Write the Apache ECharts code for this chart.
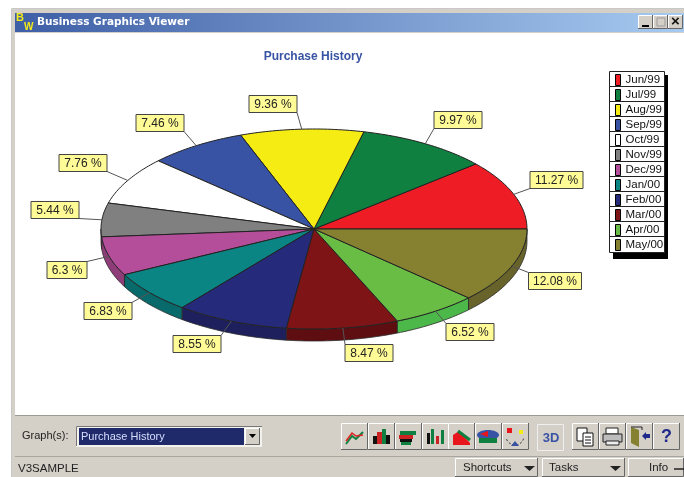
<!DOCTYPE html>
<html>
<head>
<meta charset="utf-8">
<style>
  html, body { margin: 0; padding: 0; background: #fff; }
  #main { width: 684px; height: 477px; filter: blur(0.35px); }
</style>
<script src="https://cdn.jsdelivr.net/npm/echarts@6/dist/echarts.min.js"></script>
</head>
<body>
<div id="main"></div>
<script>
const categories = ['Jun/99', 'Jul/99', 'Aug/99', 'Sep/99', 'Oct/99', 'Nov/99', 'Dec/99', 'Jan/00', 'Feb/00', 'Mar/00', 'Apr/00', 'May/00']
const shares = [11.27, 9.97, 9.36, 7.46, 7.76, 5.44, 6.3, 6.83, 8.55, 8.47, 6.52, 12.08]
const sliceColors = ['#EE1C25', '#0F8040', '#F5EC14', '#3953A4', '#FFFFFF', '#808080', '#B54E9A', '#0B8484', '#252A7A', '#7F1416', '#69BD45', '#868131']
const sideColors = ['#A51219', '#0A5A2C', '#AAA40E', '#283A72', '#D0D0D0', '#5A5A5A', '#8E3D79', '#086A6A', '#1D205C', '#5E0E10', '#4DB84A', '#67632A']
// centre of each value label box, in pixels
const labelCentres = [[556.5, 180], [458, 120], [273, 104], [160, 123], [83, 163], [55, 210], [67, 270], [108, 311], [197, 344], [369, 353], [470, 332], [555, 281]]

const PIE = { cx: 314, cy: 229, rx: 213, ry: 100, depth: 12 }
const UI_FONT = '"Liberation Sans", Arial, sans-serif'
const PANEL = '#D4D0C8'

const total = shares.reduce((a, b) => a + b, 0)
const startAngle = []
shares.reduce((acc, v, i) => {
  startAngle[i] = (acc / total) * 360
  return acc + v
}, 0)

function rimPoint(deg, drop) {
  const r = (deg * Math.PI) / 180
  return [PIE.cx + PIE.rx * Math.cos(r), PIE.cy - PIE.ry * Math.sin(r) + (drop || 0)]
}

function arc(a0, a1, drop) {
  const pts = []
  const n = Math.max(2, Math.ceil(Math.abs(a1 - a0)))
  for (let k = 0; k <= n; k++) pts.push(rimPoint(a0 + ((a1 - a0) * k) / n, drop))
  return pts
}

function renderSlice(params, api) {
  const i = params.seriesIndex
  const a0 = startAngle[i]
  const a1 = a0 + (api.value(0) / total) * 360
  const children = []

  // side wall, only on the front half of the disc
  const s0 = Math.max(a0, 180)
  if (a1 > s0) {
    children.push({
      type: 'polygon',
      shape: { points: arc(s0, a1, 0).concat(arc(a1, s0, PIE.depth)) },
      style: { fill: sideColors[i], stroke: '#2A2A2A', lineWidth: 0.8 },
    })
  }

  // top face
  children.push({
    type: 'polygon',
    shape: { points: [[PIE.cx, PIE.cy]].concat(arc(a0, a1, 0)) },
    style: { fill: sliceColors[i], stroke: '#222', lineWidth: 1 },
  })

  // leader line and value box
  const c = labelCentres[i]
  const text = api.value(0) + ' %'
  const w = text.length > 6 ? 53 : text.length > 5 ? 48 : 40
  const h = 17
  const from = rimPoint((a0 + a1) / 2, 0)
  const to = [
    Math.min(Math.max(from[0], c[0] - w / 2), c[0] + w / 2),
    Math.min(Math.max(from[1], c[1] - h / 2), c[1] + h / 2),
  ]
  children.push({
    type: 'polyline',
    z2: 5,
    shape: { points: [from, to] },
    style: { fill: null, stroke: '#555', lineWidth: 1 },
  })
  children.push({
    type: 'rect',
    z2: 6,
    shape: { x: c[0] - w / 2, y: c[1] - h / 2, width: w, height: h },
    style: { fill: '#FFFB96', stroke: '#444', lineWidth: 1 },
  })
  children.push({
    type: 'text',
    z2: 7,
    style: { text: text, x: c[0], y: c[1] + 0.5, fill: '#222', font: '12px ' + UI_FONT, textAlign: 'center', textVerticalAlign: 'middle' },
  })
  return { type: 'group', children: children }
}

// ---- window chrome ----
const box = (x, y, w, h, fill, stroke) => ({
  type: 'rect',
  shape: { x: x, y: y, width: w, height: h },
  style: { fill: fill, stroke: stroke || null, lineWidth: 1 },
})
const line = (pts, stroke, lw) => ({
  type: 'polyline',
  shape: { points: pts },
  style: { fill: null, stroke: stroke, lineWidth: lw || 1 },
})
const poly = (pts, fill) => ({ type: 'polygon', shape: { points: pts }, style: { fill: fill } })
const label = (text, x, y, font, fill, align) => ({
  type: 'text',
  style: { text: text, x: x, y: y, font: font, fill: fill, textAlign: align || 'left', textVerticalAlign: 'middle' },
})
function raised(x, y, w, h, fill) {
  return [
    box(x, y, w, h, fill || PANEL),
    line([[x + 0.5, y + h], [x + 0.5, y + 0.5], [x + w, y + 0.5]], '#FFF'),
    line([[x + w - 0.5, y], [x + w - 0.5, y + h - 0.5], [x, y + h - 0.5]], '#666', 1),
  ]
}

const chrome = [
  line([[11.5, 477], [11.5, 8.5], [684, 8.5]], '#C8C8C8'),
  box(12, 9, 672, 468, PANEL),
  box(15, 33, 669, 382, '#FFF'),
  line([[15, 415.5], [684, 415.5]], '#9C9A94'),
  {
    type: 'rect',
    shape: { x: 15, y: 13, width: 669, height: 19 },
    style: {
      fill: new echarts.graphic.LinearGradient(0, 0, 1, 0, [
        { offset: 0, color: '#3E5EA6' },
        { offset: 0.35, color: '#6384BF' },
        { offset: 1, color: '#A6CAF0' },
      ]),
    },
  },
  label('B', 16, 18, 'bold 11px ' + UI_FONT, '#F5EC14'),
  label('W', 24, 27, 'bold 10px ' + UI_FONT, '#F5EC14'),
  label('Business Graphics Viewer', 37, 22.5, 'bold 10.5px "DejaVu Sans", sans-serif', '#FFF'),
]

// title bar buttons
;[638, 653, 668].forEach((x) => chrome.push(...raised(x, 15, 15, 14)))
chrome.push(box(642, 25, 7, 2, '#000'), box(657, 18, 8, 8, null, '#9A9A9A'), label('×', 675.5, 22, 'bold 15px ' + UI_FONT, '#111', 'center'))

// legend frame, the entries come from the legend component
chrome.push(box(613, 75, 55, 184, '#000'), box(609.5, 71.5, 55, 181, '#FFF', '#222'))
categories.forEach((_, i) => {
  if (i > 0) chrome.push(line([[610, 72 + i * 15 - 0.5], [664, 72 + i * 15 - 0.5]], '#222'))
})

// bottom panel
chrome.push(
  label('Graph(s):', 22, 436, '11px ' + UI_FONT, '#222'),
  box(76, 426, 186, 21, '#F4F2EC'),
  line([[76.5, 446], [76.5, 426.5], [262, 426.5]], '#777'),
  box(79, 428, 165, 17, '#1F2A6B'),
  label('Purchase History', 81, 436.5, '11px ' + UI_FONT, '#D8DEFF')
)
chrome.push(...raised(245, 428, 15, 17))
chrome.push(poly([[249, 434], [256, 434], [252.5, 438]], '#000'))
chrome.push(line([[15, 456.5], [684, 456.5]], '#A8A6A0'))
chrome.push(label('V3SAMPLE', 18, 469, '11.5px ' + UI_FONT, '#222'))
;[[455, 83], [542, 83], [628, 56]].forEach((p) => chrome.push(...raised(p[0], 458, p[1], 19)))
chrome.push(
  label('Shortcuts', 463, 468, '11.5px ' + UI_FONT, '#222'),
  poly([[524, 466], [535, 466], [529.5, 471]], '#222'),
  label('Tasks', 549, 468, '11.5px ' + UI_FONT, '#222'),
  poly([[610, 466], [621, 466], [615.5, 471]], '#222'),
  label('Info', 649, 468, '11.5px ' + UI_FONT, '#222'),
  line([[674, 469], [684, 469]], '#222', 1.5)
)

// toolbar buttons
;[341, 368, 395, 422, 448, 475, 502, 572, 599, 626, 653].forEach((x) => chrome.push(...raised(x, 423, 27, 27)))
chrome.push(
  box(537.5, 424.5, 26, 26, null, '#EFEFEF'),
  label('3D', 551, 438, 'bold 13px ' + UI_FONT, '#3953A4', 'center'),
  // line
  line([[346, 444], [352, 436], [356, 439], [363, 432]], '#0F8040', 2),
  line([[346, 441], [352, 433], [356, 436], [363, 435]], '#D22', 1.5),
  // bars
  box(373, 436, 4, 8, '#111'), box(377, 432, 5, 12, '#C22'), box(382, 429, 4, 15, '#0F8040'), box(386, 435, 4, 9, '#111'),
  // horizontal bars
  box(400, 431, 16, 4, '#0F8040'), box(399, 435, 14, 4, '#C22'), box(400, 439, 12, 3, '#111'), box(401, 442, 10, 3, '#0F8040'),
  // columns
  box(427, 433, 3, 11, '#111'), box(431, 429, 3, 15, '#0F8040'), box(436, 436, 3, 8, '#C22'), box(441, 430, 3, 14, '#0F8040'),
  // area
  poly([[453, 442], [453, 435], [459, 431], [470, 443], [470, 445], [453, 445]], '#E8161C'),
  line([[458, 431], [470, 440]], '#0F8040', 3),
  // pie
  { type: 'ellipse', shape: { cx: 488, cy: 435, rx: 11, ry: 5 }, style: { fill: '#3953A4' } },
  box(479, 438, 18, 5, '#0F8040'),
  poly([[480, 434], [488, 431], [488, 437]], '#E8161C'),
  // radar
  { type: 'arc', shape: { cx: 515, cy: 436, r: 9, startAngle: 0.3, endAngle: 2.9 }, style: { fill: null, stroke: '#222', lineDash: [2, 2] } },
  box(507, 428, 5, 5, '#E8161C'), box(519, 430, 4, 4, '#F5EC14'), poly([[511, 446], [519, 446], [515, 441]], '#3953A4'),
  // copy
  box(577, 428, 10, 13, '#FFF', '#111'), box(583, 433, 10, 13, '#FFF', '#111'),
  line([[585, 437], [591, 437]], '#111'), line([[585, 440], [591, 440]], '#111'), line([[585, 443], [591, 443]], '#111'),
  // printer
  box(606, 428, 12, 6, '#FFF', '#222'), box(603, 434, 19, 8, '#BDBDBD', '#222'), box(606, 441, 13, 4, '#EEE', '#222'),
  // exit door
  poly([[631, 427], [639, 430], [639, 447], [631, 443]], '#868131'), line([[631, 427], [642, 427], [642, 430]], '#222'),
  poly([[642, 436], [646, 432], [646, 434], [650, 434], [650, 438], [646, 438], [646, 440]], '#1F2A8B'),
  label('?', 666.5, 437, 'bold 18px ' + UI_FONT, '#1F2A8B', 'center')
)

const chart = echarts.init(document.getElementById('main'), null, { renderer: 'canvas' })
chart.setOption({
  animation: false,
  backgroundColor: '#FFFFFF',
  title: {
    text: 'Purchase History',
    left: 308,
    top: 45,
    textAlign: 'center',
    textStyle: { color: '#3953A4', fontFamily: 'Liberation Sans', fontWeight: 'bold', fontSize: 12, lineHeight: 14 },
  },
  legend: {
    orient: 'vertical',
    left: 615,
    top: 74,
    padding: 0,
    itemWidth: 5,
    itemHeight: 11,
    itemGap: 3,
    icon: 'rect',
    selectedMode: false,
    data: categories,
    itemStyle: { borderColor: '#000', borderWidth: 1 },
    textStyle: { color: '#111', fontFamily: 'Liberation Sans', fontSize: 11.5, lineHeight: 11 },
  },
  graphic: { elements: chrome },
  series: categories.map((name, i) => ({
    type: 'custom',
    name: name,
    coordinateSystem: 'none',
    renderItem: renderSlice,
    itemStyle: { color: sliceColors[i] },
    silent: true,
    data: [[shares[i]]],
  })),
})
</script>
</body>
</html>
